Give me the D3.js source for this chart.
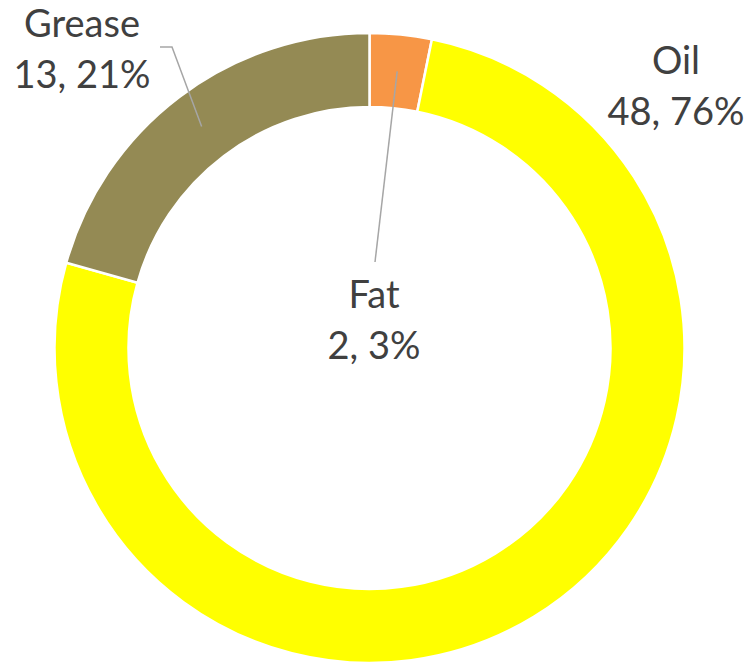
<!DOCTYPE html>
<html>
<head>
<meta charset="utf-8">
<script src="https://cdn.jsdelivr.net/npm/d3@7"></script>
<style>
  html, body { margin: 0; padding: 0; background: #fff; }
  svg { display: block; }
</style>
</head>
<body>
<svg id="chart" width="753" height="665"></svg>
<script>
// Lubricant types and their counts
const categories = ["Fat", "Oil", "Grease"];
const values = [2, 48, 13];
const colors = ["#F79646", "#FFFF00", "#948A54"];

// Label placement per slice: text anchor point and leader line elbow
const labelPos = {
  Fat:    { x: 374, y: 308, line: [[375, 262]] },
  Oil:    { x: 676, y: 74,  line: null },
  Grease: { x: 82,  y: 37,  line: [[160, 47], [172, 47]] }
};

const svg = d3.select("#chart");
const cx = 369.5, cy = 348;
const outerR = 315, innerR = 241;

const total = d3.sum(values);
const data = categories.map((c, i) => ({ name: c, value: values[i], color: colors[i] }));

const pie = d3.pie().value(d => d.value).sort(null);
const arc = d3.arc().innerRadius(innerR).outerRadius(outerR);

const g = svg.append("g").attr("transform", `translate(${cx},${cy})`);
const arcs = pie(data);

g.selectAll("path.slice")
  .data(arcs)
  .join("path")
  .attr("class", "slice")
  .attr("d", arc)
  .attr("fill", d => d.data.color)
  .attr("stroke", "#fff")
  .attr("stroke-width", 2.5);

// Leader lines from slice centroid to label
arcs.forEach(a => {
  const lp = labelPos[a.data.name];
  if (!lp.line) return;
  const [mx, my] = arc.centroid(a);
  const pts = lp.line.map(p => [p[0], p[1]]).concat([[mx + cx, my + cy]]);
  svg.append("path")
    .attr("d", d3.line()(pts))
    .attr("fill", "none")
    .attr("stroke", "#A6A6A6")
    .attr("stroke-width", 1.5);
});

// Labels: name on one line, value and percentage below
arcs.forEach(a => {
  const lp = labelPos[a.data.name];
  const pct = Math.round(a.data.value / total * 100);
  const t = svg.append("text")
    .attr("x", lp.x)
    .attr("y", lp.y)
    .attr("text-anchor", "middle")
    .attr("font-family", "Lato, 'Open Sans', sans-serif")
    .attr("font-size", 38)
    .attr("fill", "#404040");
  t.append("tspan").attr("x", lp.x).text(a.data.name);
  t.append("tspan").attr("x", lp.x).attr("dy", 51).text(`${a.data.value}, ${pct}%`);
});
</script>
</body>
</html>
